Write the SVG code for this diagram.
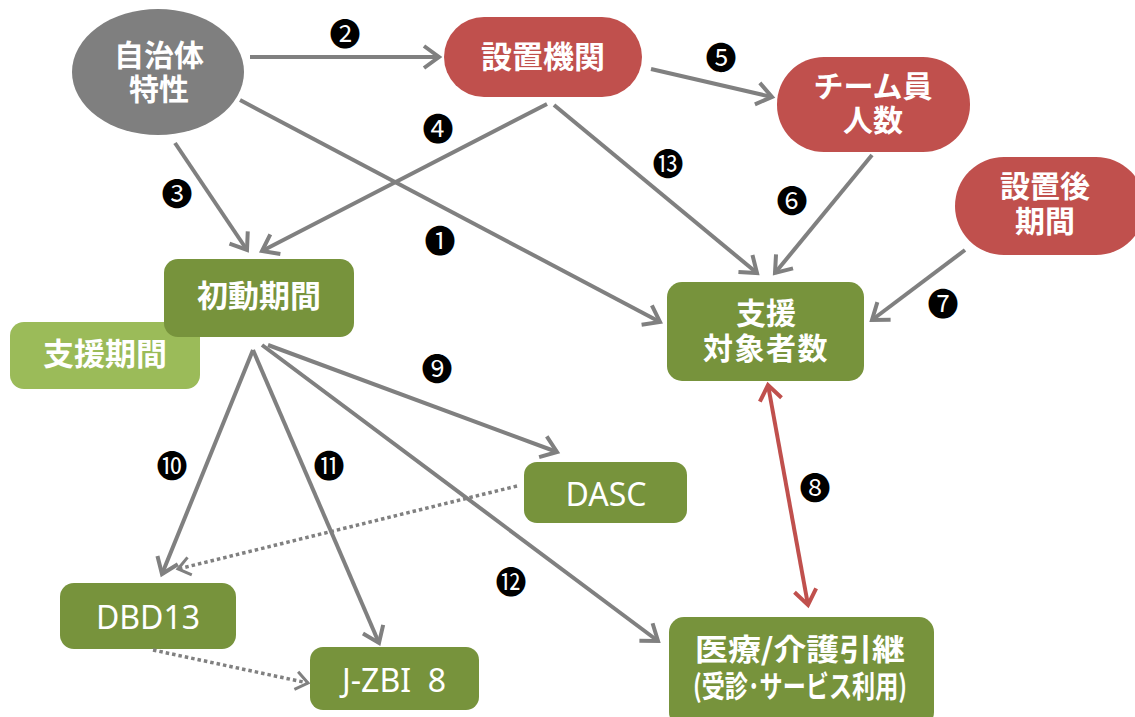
<svg xmlns="http://www.w3.org/2000/svg" width="1135" height="717" viewBox="0 0 1135 717">
<style>
.jp{font-family:"Noto Sans CJK JP","Noto Sans",sans-serif;font-weight:bold;font-size:31px;fill:#fff;text-anchor:middle}
.jp2{font-family:"Noto Sans CJK JP","Noto Sans",sans-serif;font-weight:bold;font-size:30px;fill:#fff;text-anchor:middle}
.en{font-family:"Noto Sans","Open Sans",sans-serif;font-size:32px;fill:#fff;text-anchor:middle;white-space:pre}
.num{font-family:"Noto Sans CJK JP","DejaVu Sans",sans-serif;font-size:31px;fill:#000;text-anchor:middle}
.gray{fill:#7F7F7F}
.red{fill:#C0504D}
.green{fill:#77933C}
.lgreen{fill:#9BBB59}
.c{fill:none;stroke:#808080;stroke-width:4}
.d{fill:none;stroke:#808080;stroke-width:3.5;stroke-dasharray:3.5 3}
.r{fill:none;stroke:#C0504D;stroke-width:4}
</style>
<defs>
<marker id="ah" markerUnits="userSpaceOnUse" viewBox="-20 -16 26 32" refX="0" refY="0" markerWidth="26" markerHeight="32" orient="auto">
<path d="M-15,-11 L0,0 L-15,11" fill="none" stroke="#808080" stroke-width="4"/>
</marker>
<marker id="ahd" markerUnits="userSpaceOnUse" viewBox="-16 -14 22 28" refX="0" refY="0" markerWidth="22" markerHeight="28" orient="auto">
<path d="M-12,-9 L0,0 L-12,9" fill="none" stroke="#808080" stroke-width="3"/>
</marker>
<marker id="ahr" markerUnits="userSpaceOnUse" viewBox="-20 -16 26 32" refX="0" refY="0" markerWidth="26" markerHeight="32" orient="auto-start-reverse">
<path d="M-15,-11 L0,0 L-15,11" fill="none" stroke="#C0504D" stroke-width="4"/>
</marker>
</defs>

<g id="node-jichitai">
<ellipse class="gray" cx="158" cy="72" rx="86" ry="63"/>
<text class="jp2"><tspan x="159" y="66">自治体</tspan><tspan x="159" y="100">特性</tspan></text>
</g>
<g id="node-setchikikan">
<rect class="red" x="444" y="17" width="198" height="80" rx="40"/>
<text class="jp" x="543" y="68">設置機関</text>
</g>
<g id="node-team">
<rect class="red" x="777" y="57" width="193" height="95" rx="47"/>
<text class="jp2"><tspan x="873" y="97">チーム員</tspan><tspan x="873" y="131">人数</tspan></text>
</g>
<g id="node-setchigo">
<rect class="red" x="955" y="157" width="190" height="98" rx="49"/>
<text class="jp2"><tspan x="1045" y="197">設置後</tspan><tspan x="1045" y="232">期間</tspan></text>
</g>
<g id="node-shienkikan">
<rect class="lgreen" x="10" y="322" width="190" height="67" rx="14"/>
<text class="jp" x="105" y="365">支援期間</text>
</g>
<g id="node-shodou">
<rect class="green" x="164" y="259" width="190" height="78" rx="14"/>
<text class="jp" x="259" y="307">初動期間</text>
</g>
<g id="node-taishousha">
<rect class="green" x="667" y="282" width="197" height="99" rx="15"/>
<text class="jp2"><tspan x="766" y="324">支援</tspan><tspan x="766" y="359" letter-spacing="1.5">対象者数</tspan></text>
</g>
<g id="node-dasc">
<rect class="green" x="524" y="462" width="163" height="61" rx="13"/>
<text class="en" x="606" y="506">DASC</text>
</g>
<g id="node-dbd13">
<rect class="green" x="60" y="583" width="176" height="66" rx="14"/>
<text class="en" x="148" y="629">DBD13</text>
</g>
<g id="node-jzbi">
<rect class="green" x="310" y="647" width="169" height="63" rx="13"/>
<text class="en" x="394" y="692" xml:space="preserve">J-ZBI  8</text>
</g>
<g id="node-iryou">
<rect class="green" x="669" y="617" width="265" height="110" rx="15"/>
<text class="jp2"><tspan x="800" y="660" textLength="210" lengthAdjust="spacingAndGlyphs">医療/介護引継</tspan><tspan x="800" y="697" textLength="214" lengthAdjust="spacingAndGlyphs">(受診･サービス利用)</tspan></text>
</g>

<g id="connectors">
<line class="c" x1="240" y1="100" x2="660" y2="322" marker-end="url(#ah)"/>
<line class="c" x1="250" y1="57" x2="439" y2="57" marker-end="url(#ah)"/>
<line class="c" x1="175" y1="143" x2="247" y2="250" marker-end="url(#ah)"/>
<line class="c" x1="547" y1="104" x2="262" y2="251" marker-end="url(#ah)"/>
<line class="c" x1="651" y1="69" x2="772" y2="97" marker-end="url(#ah)"/>
<line class="c" x1="872" y1="155" x2="775" y2="273" marker-end="url(#ah)"/>
<line class="c" x1="965" y1="250" x2="872" y2="320" marker-end="url(#ah)"/>
<line class="c" x1="268" y1="345" x2="557" y2="452" marker-end="url(#ah)"/>
<line class="c" x1="253" y1="350" x2="162" y2="574" marker-end="url(#ah)"/>
<line class="c" x1="253" y1="350" x2="379" y2="643" marker-end="url(#ah)"/>
<line class="c" x1="262" y1="345" x2="658" y2="641" marker-end="url(#ah)"/>
<line class="c" x1="554" y1="105" x2="757" y2="273" marker-end="url(#ah)"/>
<line class="r" x1="768" y1="385" x2="808" y2="605" marker-start="url(#ahr)" marker-end="url(#ahr)"/>
<line class="d" x1="517" y1="486" x2="178" y2="569" marker-end="url(#ahd)"/>
<line class="d" x1="153" y1="650" x2="308" y2="683" marker-end="url(#ahd)"/>
</g>

<g id="labels">
<text class="num" x="440" y="252">❶</text>
<text class="num" x="345" y="45">❷</text>
<text class="num" x="177" y="205">❸</text>
<text class="num" x="438" y="140">❹</text>
<text class="num" x="721" y="69">❺</text>
<text class="num" x="792" y="212">❻</text>
<text class="num" x="943" y="315">❼</text>
<text class="num" x="815" y="499">❽</text>
<text class="num" x="437" y="380">❾</text>
<text class="num" x="172" y="477">❿</text>
<text class="num" x="329" y="477">⓫</text>
<text class="num" x="511" y="593">⓬</text>
<text class="num" x="668" y="175">⓭</text>
</g>
</svg>
